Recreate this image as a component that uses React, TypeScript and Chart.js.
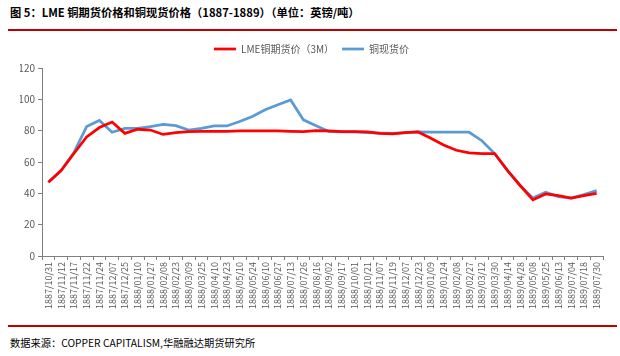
import React, { useEffect, useRef } from "react";
import { Chart, registerables } from "chart.js";

Chart.register(...registerables);

const categories = [
  "1887/10/31", "1887/11/12", "1887/11/17", "1887/11/22", "1887/11/24", "1887/12/07", "1887/12/25",
  "1888/01/10", "1888/01/27", "1888/02/08", "1888/02/23", "1888/03/09", "1888/03/25", "1888/04/10",
  "1888/04/23", "1888/05/10", "1888/05/24", "1888/06/10", "1888/06/27", "1888/07/13", "1888/07/26",
  "1888/08/16", "1888/09/02", "1888/09/17", "1888/10/01", "1888/10/21", "1888/11/07", "1888/11/19",
  "1888/12/07", "1888/12/23", "1889/01/09", "1889/01/24", "1889/02/08", "1889/02/27", "1889/03/12",
  "1889/03/30", "1889/04/14", "1889/04/28", "1889/05/08", "1889/05/25", "1889/06/13", "1889/07/04",
  "1889/07/18", "1889/07/30",
];

const futuresLME3M = [
  47.1, 54.6, 65.4, 76, 82, 85.5, 78.3, 80.9, 80.4, 77.6, 78.7, 79.4, 79.6, 79.6,
  79.6, 79.8, 79.8, 79.8, 79.8, 79.6, 79.4, 80, 79.8, 79.4, 79.4, 79.2, 78.3, 77.9,
  78.7, 79.2, 75.1, 70.8, 67.5, 65.8, 65.4, 65.4, 54.7, 45, 35.8, 39.6, 38.5, 37,
  38.5, 40,
];

const spotPrice = [
  47.1, 54.6, 66, 82.6, 86.5, 79, 81.5, 81.5, 82.6, 84, 83.2, 80.4, 81.5, 83,
  83, 85.8, 89, 93.3, 96.5, 99.6, 86.9, 83.2, 79.4, 79.2, 79.2, 78.7, 78.5, 78.3,
  78.7, 79.2, 79, 79, 79, 79, 73.6, 65.4, 54.7, 45, 37, 40.7, 37.9, 37,
  39.2, 41.7,
];

const yMin = 0;
const yMax = 120;
const yStep = 20;

const seriesNames = ["LME铜期货价（3M）", "铜现货价"];

const FONT = "'Noto Sans CJK SC', 'Noto Sans', sans-serif";

const legendGap = {
  id: "legendGap",
  beforeLayout(chart: any) {
    const lg = chart.legend;
    if (lg && !lg.__patched) {
      const orig = lg.fit.bind(lg);
      lg.fit = function () {
        orig();
        this.height += 4;
      };
      lg.__patched = true;
    }
  },
};

export default function App() {
  const ref = useRef<HTMLCanvasElement | null>(null);

  useEffect(() => {
    document.body.style.margin = "0";
    const ctx = ref.current;
    if (!ctx) return;
    const chart = new Chart(ctx, {
      type: "line",
      data: {
        labels: categories,
        datasets: [
          {
            label: seriesNames[0],
            data: futuresLME3M,
            borderColor: "#FF0000",
            backgroundColor: "#FF0000",
            borderWidth: 2.75,
            pointRadius: 0,
            pointStyle: "line",
            tension: 0,
          },
          {
            label: seriesNames[1],
            data: spotPrice,
            borderColor: "#5B9BD5",
            backgroundColor: "#5B9BD5",
            borderWidth: 2.75,
            pointRadius: 0,
            pointStyle: "line",
            tension: 0,
          },
        ],
      },
      options: {
        animation: false,
        responsive: false,
        maintainAspectRatio: false,
        layout: { padding: { left: 20, right: 9, top: 0, bottom: 0 } },
        plugins: {
          legend: {
            display: true,
            position: "top",
            labels: {
              usePointStyle: true,
              pointStyle: "line",
              pointStyleWidth: 22,
              boxHeight: 10,
              padding: 8,
              color: "#595959",
              font: { family: FONT, size: 10 },
            },
          },
          tooltip: { enabled: false },
        },
        scales: {
          x: {
            type: "category",
            offset: true,
            grid: {
              display: true,
              offset: true,
              drawOnChartArea: false,
              drawTicks: true,
              tickLength: 4,
              color: "#7f7f7f",
            },
            border: { display: true, color: "#7f7f7f", width: 1 },
            ticks: {
              autoSkip: false,
              minRotation: 90,
              maxRotation: 90,
              color: "#595959",
              padding: 2,
              font: { family: FONT, size: 9 },
            },
            afterFit: (scale: any) => {
              scale.height = 66;
            },
          },
          y: {
            min: yMin,
            max: yMax,
            grid: {
              display: true,
              drawOnChartArea: false,
              drawTicks: true,
              tickLength: 4,
              color: "#7f7f7f",
            },
            border: { display: true, color: "#7f7f7f", width: 1 },
            ticks: {
              stepSize: yStep,
              color: "#595959",
              padding: 3,
              font: { family: FONT, size: 10 },
            },
            afterFit: (scale: any) => {
              scale.width = 22;
            },
          },
        },
      },
      plugins: [legendGap],
    });
    return () => chart.destroy();
  }, []);

  return (
    <div
      style={{
        position: "fixed",
        left: 0,
        top: 0,
        width: 620,
        height: 356,
        background: "#fff",
        overflow: "hidden",
        fontFamily: FONT,
      }}
    >
      <div
        style={{
          position: "absolute",
          left: 10,
          top: 3,
          fontSize: 11.25,
          fontWeight: 700,
          color: "#000",
          whiteSpace: "nowrap",
          lineHeight: "18px",
        }}
      >
        图 5：LME 铜期货价格和铜现货价格（1887-1889）（单位：英镑/吨）
      </div>
      <div style={{ position: "absolute", left: 8, top: 29, width: 609, height: 2, background: "#C00000" }} />
      <div style={{ position: "absolute", left: 0, top: 36, width: 612, height: 286 }}>
        <canvas ref={ref} width={612} height={286} style={{ display: "block" }} />
      </div>
      <div style={{ position: "absolute", left: 8, top: 325, width: 609, height: 2, background: "#C00000" }} />
      <div
        style={{
          position: "absolute",
          left: 10,
          top: 335,
          fontSize: 10.25,
          color: "#000",
          whiteSpace: "nowrap",
          lineHeight: "16px",
        }}
      >
        数据来源：COPPER CAPITALISM,华融融达期货研究所
      </div>
    </div>
  );
}
